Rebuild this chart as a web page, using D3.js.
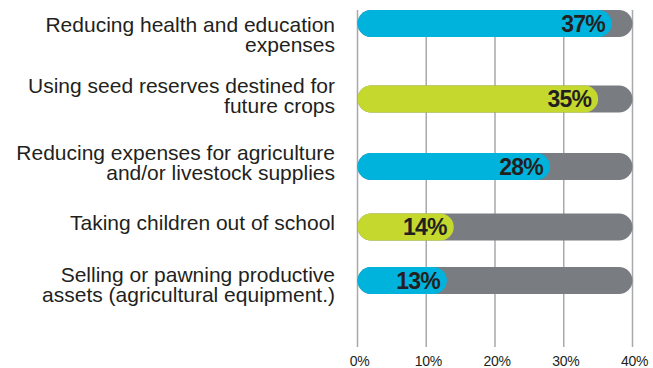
<!DOCTYPE html>
<html>
<head>
<meta charset="utf-8">
<script src="https://cdn.jsdelivr.net/npm/d3@7"></script>
<style>
    body { margin: 0; background: #fff; }
    #chart { width: 653px; height: 368px; }
    .cat { font-family: "Liberation Sans", Arial, sans-serif; font-size: 21px; fill: #231f20; letter-spacing: 0px; }
    .val { font-family: "Liberation Sans", Arial, sans-serif; font-size: 23px; font-weight: bold; fill: #231f20; letter-spacing: -0.8px; }
    .tick { font-family: "Liberation Sans", Arial, sans-serif; font-size: 14px; fill: #231f20; letter-spacing: -0.3px; }
</style>
</head>
<body>
<div id="chart"></div>
<script>
// data
const categories = [
    "Reducing health and education expenses",
    "Using seed reserves destined for future crops",
    "Reducing expenses for agriculture and/or livestock supplies",
    "Taking children out of school",
    "Selling or pawning productive assets (agricultural equipment.)"
];
const labelLines = [
    ["Reducing health and education", "expenses"],
    ["Using seed reserves destined for", "future crops"],
    ["Reducing expenses for agriculture", "and/or livestock supplies"],
    ["Taking children out of school"],
    ["Selling or pawning productive", "assets (agricultural equipment.)"]
];
const values = [37, 35, 28, 14, 13];
const tickValues = [0, 10, 20, 30, 40];
const maxValue = 40;

class PillChart {

    constructor(parentElement) {
        this.parentElement = parentElement;
        this.initVis();
    }

    initVis() {
        let vis = this;

        vis.width = 653;
        vis.height = 368;
        vis.barHeight = 27;

        vis.svg = d3.select("#" + vis.parentElement).append("svg")
            .attr("width", vis.width)
            .attr("height", vis.height);

        vis.x = d3.scaleLinear().domain([0, maxValue]).range([357.5, 632.5]);

        // rows are laid out by hand in the original infographic
        vis.yBar = d3.scaleOrdinal().domain(categories).range([23.5, 99, 166.5, 227, 280.5]);
        vis.yLabel = d3.scaleOrdinal().domain(categories).range([35, 96, 163, 223, 285]);

        vis.blue = "#00b3dd";
        vis.lime = "#c5d82d";
        vis.grey = "#797c81";

        vis.updateVis();
    }

    updateVis() {
        let vis = this;

        // gridlines
        vis.svg.append("g").selectAll("line")
            .data(tickValues)
            .enter().append("line")
            .attr("x1", d => vis.x(d))
            .attr("x2", d => vis.x(d))
            .attr("y1", 10)
            .attr("y2", 347)
            .attr("stroke", "#a7a9ac")
            .attr("stroke-width", 1.5);

        vis.svg.append("g").selectAll("text")
            .data(tickValues)
            .enter().append("text")
            .attr("class", "tick")
            .attr("x", d => vis.x(d) + 2)
            .attr("y", 366)
            .attr("text-anchor", "middle")
            .text(d => d + "%");

        let rows = vis.svg.append("g").selectAll("g")
            .data(categories)
            .enter().append("g");

        let r = vis.barHeight / 2;

        // grey background pill
        rows.append("rect")
            .attr("x", vis.x(0))
            .attr("y", d => vis.yBar(d) - r)
            .attr("width", vis.x(maxValue) - vis.x(0))
            .attr("height", vis.barHeight)
            .attr("rx", r)
            .attr("fill", vis.grey);

        // coloured value pill
        rows.append("rect")
            .attr("x", vis.x(0))
            .attr("y", d => vis.yBar(d) - r)
            .attr("width", (d, i) => vis.x(values[i]) - vis.x(0))
            .attr("height", vis.barHeight)
            .attr("rx", r)
            .attr("fill", (d, i) => i % 2 === 0 ? vis.blue : vis.lime);

        rows.append("text")
            .attr("class", "val")
            .attr("x", (d, i) => vis.x(values[i]) - 7)
            .attr("y", d => vis.yBar(d) + 8)
            .attr("text-anchor", "end")
            .text((d, i) => values[i] + "%");

        // category labels
        let lineH = 19.5;
        rows.append("text")
            .attr("class", "cat")
            .attr("text-anchor", "end")
            .attr("x", 335)
            .attr("y", (d, i) => vis.yLabel(d) + 7 - (labelLines[i].length - 1) * lineH / 2)
            .selectAll("tspan")
            .data((d, i) => labelLines[i])
            .enter().append("tspan")
            .attr("x", 335)
            .attr("dy", (d, j) => j === 0 ? 0 : lineH)
            .text(d => d);
    }
}

new PillChart("chart");
</script>
</body>
</html>
